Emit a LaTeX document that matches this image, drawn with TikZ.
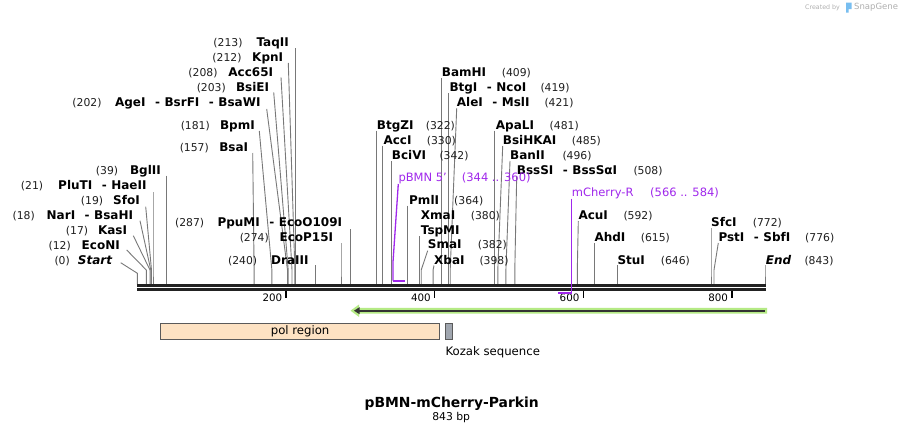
\documentclass[tikz,border=0pt]{standalone}
\usepackage{fontspec}
\setmainfont{DejaVu Sans}
\definecolor{linegray}{RGB}{120,120,120}
\definecolor{primc}{RGB}{160,40,236}
\definecolor{bbone}{RGB}{34,34,34}
\definecolor{halo}{RGB}{181,234,133}
\definecolor{featdark}{RGB}{51,51,51}
\definecolor{polfill}{RGB}{253,226,195}
\definecolor{kozfill}{RGB}{160,166,175}
\definecolor{boxline}{RGB}{90,90,90}
\definecolor{wmgray}{RGB}{175,175,175}
\definecolor{wmblue}{RGB}{120,190,240}
\newcommand\sepd{\hspace{9.5pt}-\hspace{4.5pt}}
\newcommand\enzleft[6]{%
  \node[enz,anchor=base east] (#1n) at (#3,#2) {#4};
  \node[num,anchor=base east] (#1p) at (#6,#2) {#5};}
\newcommand\enzright[6]{%
  \node[enz,anchor=base west] (#1n) at (#3,#2) {#4};
  \node[num,anchor=base west] (#1p) at (#6,#2) {#5};}
\newcommand\cutln[4]{%
  \coordinate (#1s) at (#2,#3);
  \coordinate (#1k) at (#4,270);
  \coordinate (#1e) at (#4,284.3);
  \draw[cutl] (#1s) -- (#1k) -- (#1e);}
\begin{document}
\begin{tikzpicture}[x=1pt,y=-1pt,
  enz/.style={font=\fontsize{12}{13}\selectfont\bfseries,inner sep=0pt,text=black},
  num/.style={font=\fontsize{10.8}{12}\selectfont,inner sep=0pt,text=black!88},
  plab/.style={font=\fontsize{11.5}{13}\selectfont,inner sep=0pt,text=primc},
  cutl/.style={draw=linegray,line width=0.9pt},
  prim/.style={draw=primc,line width=1.3pt},
  pbar/.style={draw=primc,line width=2pt},
  bbl/.style={draw=bbone,line width=2.4pt},
  tickm/.style={draw=black,line width=1.4pt},
  ticklab/.style={font=\fontsize{10.3}{12}\selectfont,inner sep=0pt,anchor=base east},
  featbox/.style={draw=boxline,line width=0.9pt},
  flab/.style={font=\fontsize{11.7}{13}\selectfont,inner sep=0pt}]
\useasboundingbox (0,0) rectangle (903,434);
\fill[white] (0,0) rectangle (903,434);

% watermark
\node[font=\fontsize{6.3}{7}\selectfont,text=wmgray,inner sep=0pt,anchor=west] (wm1) at (805,7.5) {Created by};
\fill[wmblue] (846,2.5) -- (851.5,2.5) -- (851.5,9) -- (848.5,9) -- (848.5,12.5) -- (846,12.5) -- cycle;
\node[font=\fontsize{8.5}{9}\selectfont,text=wmgray,inner sep=0pt,anchor=west] (wm2) at (854,7.5) {SnapGene};

% backbone
\coordinate (bbL1) at (137,285.5); \coordinate (bbR1) at (765.7,285.5);
\coordinate (bbL2) at (137,289.5); \coordinate (bbR2) at (765.7,289.5);

% cut lines
\cutln{taq}{295.7}{48.3}{295.7}
\cutln{kpn}{288.3}{63}{294.9}
\cutln{acc}{281}{77.3}{292}
\cutln{bsie}{273.7}{92.3}{288.2}
\cutln{agei}{266.7}{109}{287.5}
\cutln{bpm}{259.3}{131}{271.9}
\cutln{bsa}{252.7}{153}{254.1}
\cutln{ppu}{350.6}{229.3}{350.6}
\cutln{ecop}{341}{243.3}{341}
\cutln{dra}{315.7}{265}{315.7}
\cutln{bgl}{166.4}{175.7}{166.4}
\cutln{plu}{153}{192.3}{153}
\cutln{sfo}{145.7}{206.7}{151.5}
\cutln{nar}{140}{220.7}{150.8}
\cutln{kas}{133.3}{235.7}{150}
\cutln{econ}{126.7}{250}{146.3}
\coordinate (sts) at (120.7,262.7); \coordinate (stk) at (137.4,273.3); \coordinate (ste) at (137.4,284.3);
\draw[cutl] (sts) -- (stk) -- (ste);
\cutln{bam}{441.3}{78.3}{441.3}
\cutln{btgi}{448.7}{93.3}{448.7}
\cutln{alei}{456.7}{108.3}{450.2}
\cutln{btgz}{376.6}{130.7}{376.6}
\cutln{acci}{382.6}{145.7}{382.6}
\cutln{bciv}{391.5}{161}{391.5}
\cutln{pml}{407.9}{205.7}{407.9}
\cutln{tsp}{419.7}{236}{419.7}
\cutln{sma}{427.7}{250.7}{421.2}
\cutln{xba}{434}{265.5}{433.1}
\cutln{apa}{494.8}{130.7}{494.8}
\cutln{bsih}{502.7}{146}{497.8}
\cutln{ban}{510}{161}{505.9}
\cutln{bsss}{516.7}{176}{514.8}
\cutln{acu}{578.3}{221}{577.3}
\cutln{ahd}{594.3}{243.3}{594.3}
\cutln{stu}{617.4}{265}{617.4}
\cutln{sfc}{711}{228}{711}
\cutln{pst}{718.3}{243}{714}
\cutln{endc}{765}{265}{765}

\draw[bbl] (bbL1) -- (bbR1);
\draw[bbl] (bbL2) -- (bbR2);

% ticks
\foreach \v/\xx in {200/286,400/434.6,600/583.2,800/731.8}{
  \coordinate (t\v a) at (\xx,290.5);
  \coordinate (t\v b) at (\xx,297.5);
  \draw[tickm] (t\v a) -- (t\v b);
  \node[ticklab] (tl\v) at (\xx-3.6,301) {\v};
}

% left labels
\enzleft{taq}{46.6}{289}{TaqII}{(213)}{242.7}
\enzleft{kpn}{61}{283.3}{KpnI}{(212)}{241.7}
\enzleft{acc}{76}{273.3}{Acc65I}{(208)}{217.7}
\enzleft{bsie}{91}{269.3}{BsiEI}{(203)}{226}
\enzleft{agei}{106}{260.7}{AgeI\sepd BsrFI\sepd BsaWI}{(202)}{101.7}
\enzleft{bpm}{129.3}{255}{BpmI}{(181)}{210}
\enzleft{bsa}{151.6}{248.3}{BsaI}{(157)}{209}
\enzleft{ppu}{226.6}{342.3}{PpuMI\sepd EcoO109I}{(287)}{204.3}
\enzleft{ecop}{241.6}{333.3}{EcoP15I}{(274)}{269}
\enzleft{dra}{264.3}{308.7}{DraIII}{(240)}{257.3}
\enzleft{bgl}{174.3}{161}{BglII}{(39)}{118.3}
\enzleft{plu}{189.3}{146.7}{PluTI\sepd HaeII}{(21)}{43.3}
\enzleft{sfo}{204.3}{140}{SfoI}{(19)}{103.3}
\enzleft{nar}{219.3}{133.3}{NarI\sepd BsaHI}{(18)}{35}
\enzleft{kas}{234.3}{127.3}{KasI}{(17)}{88.3}
\enzleft{econ}{249.3}{120}{EcoNI}{(12)}{71}
\enzleft{st}{264.3}{112.3}{\itshape Start}{(0)}{70}

% right labels
\enzright{bam}{76}{441.7}{BamHI}{(409)}{501.7}
\enzright{btgi}{91}{449.3}{BtgI\sepd NcoI}{(419)}{540.3}
\enzright{alei}{106}{456.7}{AleI\sepd MslI}{(421)}{544.3}
\enzright{btgz}{129.3}{376.7}{BtgZI}{(322)}{425.7}
\enzright{acci}{144.3}{383.3}{AccI}{(330)}{426.7}
\enzright{bciv}{159.3}{391.7}{BciVI}{(342)}{439.3}
\enzright{pml}{204.3}{409}{PmlI}{(364)}{454}
\enzright{xma}{219.3}{420.7}{XmaI}{(380)}{470.7}
\node[enz,anchor=base west] (tspn) at (420.7,234.3) {TspMI};
\enzright{sma}{248.6}{427.7}{SmaI}{(382)}{477.7}
\enzright{xba}{264.3}{434}{XbaI}{(398)}{479.3}
\enzright{apa}{129.3}{495.7}{ApaLI}{(481)}{549.5}
\enzright{bsih}{144.3}{502.7}{BsiHKAI}{(485)}{571.7}
\enzright{ban}{159.3}{510}{BanII}{(496)}{562.3}
\enzright{bsss}{174.3}{516.7}{BssSI\sepd BssSαI}{(508)}{633.3}
\enzright{acu}{219.3}{578.3}{AcuI}{(592)}{623.3}
\enzright{ahd}{241.6}{594.3}{AhdI}{(615)}{640.7}
\enzright{stu}{264.3}{617.3}{StuI}{(646)}{660.7}
\enzright{sfc}{226}{711}{SfcI}{(772)}{752.7}
\enzright{pst}{241}{718.3}{PstI\sepd SbfI}{(776)}{805}
\enzright{endc}{264.3}{765.7}{\itshape End}{(843)}{804.3}

% primers
\node[plab,anchor=base west] (pbmn) at (398.3,181.6) {pBMN 5\char39};
\node[plab,anchor=base west] (pbmnp) at (461.7,181.6) {(344 .. 360)};
\coordinate (pb1) at (398.3,184); \coordinate (pb2) at (393,262); \coordinate (pb3) at (393,280.7); \coordinate (pb4) at (404.9,280.7);
\draw[prim] (pb1) -- (pb2) -- (pb3);
\draw[pbar] (pb3) -- (pb4);
\node[plab,anchor=base west] (mch) at (571.7,196) {mCherry-R};
\node[plab,anchor=base west] (mchp) at (650,196) {(566 .. 584)};
\coordinate (mc1) at (571.7,198.5); \coordinate (mc2) at (571.7,293.3); \coordinate (mc3) at (558,293.3);
\draw[prim] (mc1) -- (mc2);
\draw[pbar] (mc2) -- (mc3);

% green feature arrow
\fill[halo] (350.5,310.7) -- (359,304.5) -- (359,307.8) -- (767,307.8) -- (767,313.6) -- (359,313.6) -- (359,316.9) -- cycle;
\coordinate (ga) at (358,310.7); \coordinate (gb) at (764.5,310.7);
\draw[featdark,line width=1.9pt] (ga) -- (gb);
\fill[featdark] (354,310.7) -- (359.5,307.2) -- (359.5,314.2) -- cycle;

% features
\node[featbox,fill=polfill,minimum width=279.3pt,minimum height=16pt,inner sep=0pt,anchor=north west,flab] (pol) at (160,323.3) {pol region};
\node[featbox,fill=kozfill,minimum width=7pt,minimum height=16pt,inner sep=0pt,anchor=north west] (koz) at (445.3,323.3) {};
\node[flab,anchor=west] (kozl) at (445.3,352.6) {Kozak sequence};

% title
\node[font=\fontsize{13.9}{15}\selectfont\bfseries,inner sep=0pt] (title) at (451.7,403.3) {pBMN-mCherry-Parkin};
\node[font=\fontsize{10.8}{12}\selectfont,inner sep=0pt] (bp) at (451.2,417.3) {843 bp};
\end{tikzpicture}
\end{document}
